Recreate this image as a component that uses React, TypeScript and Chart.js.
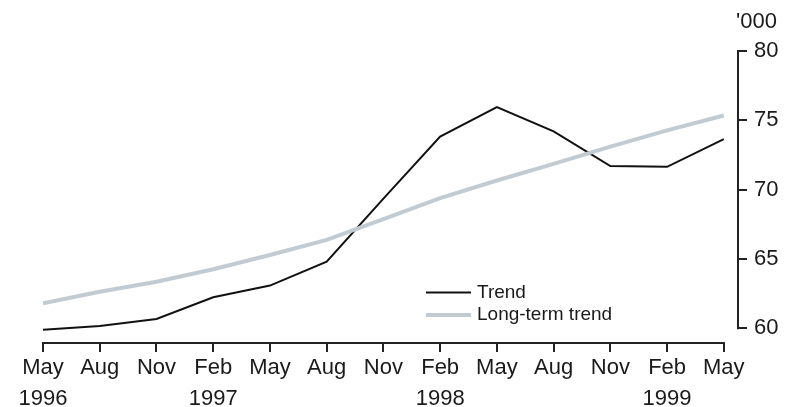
import React, { useEffect, useRef } from "react";
import { Chart, registerables } from "chart.js";

Chart.register(...registerables);

const months = ["May", "Aug", "Nov", "Feb", "May", "Aug", "Nov", "Feb", "May", "Aug", "Nov", "Feb", "May"];
const years = ["1996", "", "", "1997", "", "", "", "1998", "", "", "", "1999", ""];
const trend = [59.9, 60.17, 60.67, 62.24, 63.08, 64.81, 69.35, 73.83, 75.96, 74.2, 71.7, 71.65, 73.65];
const longTerm = [61.8, 62.64, 63.36, 64.26, 65.29, 66.38, 67.87, 69.39, 70.66, 71.86, 73.1, 74.27, 75.35];
const yTicks = [60, 65, 70, 75, 80];
const unitLabel = "'000";
const seriesNames = ["Trend", "Long-term trend"];

const FONT = "'Liberation Sans', Arial, sans-serif";
const TEXT = "#1a1a1a";
const AXIS = "#222222";
const BLACK = "#111111";
const GREY = "#c3cbd2";

export default function App() {
  const ref = useRef<HTMLCanvasElement | null>(null);

  useEffect(() => {
    if (!ref.current) return;
    const overlay = {
      id: "overlay",
      afterDraw(chart: any) {
        const ctx = chart.ctx;
        const xs = chart.scales.x;
        const ys = chart.scales.y;
        const area = chart.chartArea;
        ctx.save();
        ctx.strokeStyle = AXIS;
        ctx.lineWidth = 2;
        // x axis line
        ctx.beginPath();
        ctx.moveTo(xs.getPixelForValue(0) - 1, area.bottom);
        ctx.lineTo(xs.getPixelForValue(months.length - 1) + 1, area.bottom);
        ctx.stroke();
        // y axis line
        ctx.beginPath();
        ctx.moveTo(area.right, ys.getPixelForValue(yTicks[0]) + 1);
        ctx.lineTo(area.right, ys.getPixelForValue(yTicks[yTicks.length - 1]) - 1);
        ctx.stroke();
        // unit label
        ctx.fillStyle = TEXT;
        ctx.font = `22px ${FONT}`;
        ctx.textAlign = "left";
        ctx.textBaseline = "middle";
        ctx.fillText(unitLabel, area.right - 2, 22);
        // legend
        const lx0 = 426, lx1 = 471, tx = 477;
        const rows = [
          { name: seriesNames[0], color: BLACK, w: 2, y: 292.5 },
          { name: seriesNames[1], color: GREY, w: 4, y: 315 },
        ];
        ctx.font = `19px ${FONT}`;
        for (const r of rows) {
          ctx.strokeStyle = r.color;
          ctx.lineWidth = r.w;
          ctx.beginPath();
          ctx.moveTo(lx0, r.y);
          ctx.lineTo(lx1, r.y);
          ctx.stroke();
          ctx.fillStyle = TEXT;
          ctx.fillText(r.name, tx, r.y);
        }
        ctx.restore();
      },
    };

    const chart = new Chart(ref.current, {
      type: "line",
      data: {
        datasets: [
          {
            label: seriesNames[1],
            data: longTerm.map((v, i) => ({ x: i, y: v })),
            borderColor: GREY,
            borderWidth: 4,
            pointRadius: 0,
            tension: 0,
          },
          {
            label: seriesNames[0],
            data: trend.map((v, i) => ({ x: i, y: v })),
            borderColor: BLACK,
            borderWidth: 2,
            pointRadius: 0,
            tension: 0,
          },
        ],
      },
      options: {
        animation: false,
        responsive: false,
        maintainAspectRatio: false,
        layout: { padding: { left: 43, right: 0, top: 51, bottom: 0 } },
        plugins: { legend: { display: false }, tooltip: { enabled: false }, title: { display: false } },
        scales: {
          x: {
            type: "linear",
            min: 0,
            max: 12.25,
            afterBuildTicks: (s: any) => {
              s.ticks = months.map((_, i) => ({ value: i }));
            },
            afterFit: (s: any) => {
              s.height = 64;
            },
            grid: { display: true, drawOnChartArea: false, drawTicks: true, tickLength: 9, color: AXIS, lineWidth: 2 },
            border: { display: false },
            ticks: {
              autoSkip: false,
              maxRotation: 0,
              padding: 1,
              color: TEXT,
              font: { family: FONT, size: 22, lineHeight: 1.4 },
              callback: (v: any) => {
                const i = Math.round(Number(v));
                return years[i] ? [months[i], years[i]] : months[i];
              },
            },
          },
          y: {
            type: "linear",
            position: "right",
            min: 58.94,
            max: 80,
            afterBuildTicks: (s: any) => {
              s.ticks = yTicks.map((v) => ({ value: v }));
            },
            afterFit: (s: any) => {
              s.width = 50;
            },
            grid: { display: true, drawOnChartArea: false, drawTicks: true, tickLength: 9, color: AXIS, lineWidth: 2 },
            border: { display: false },
            ticks: {
              padding: 7,
              color: TEXT,
              font: { family: FONT, size: 22 },
            },
          },
        },
      },
      plugins: [overlay],
    });
    return () => chart.destroy();
  }, []);

  return (
    <div style={{ position: "fixed", left: 0, top: 0, width: 788, height: 407, background: "#fff" }}>
      <canvas ref={ref} width={788} height={407} style={{ width: 788, height: 407 }} />
    </div>
  );
}
